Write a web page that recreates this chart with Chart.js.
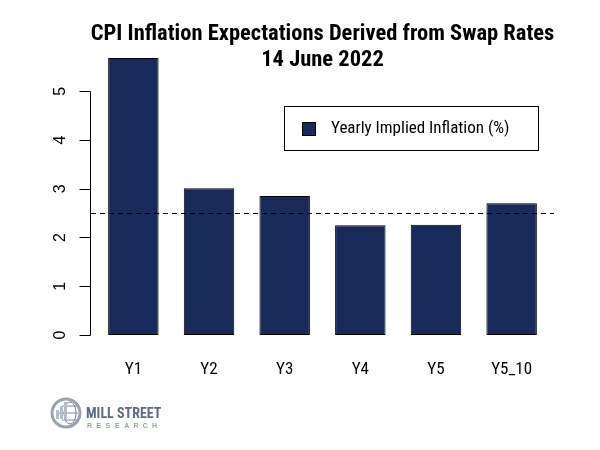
<!DOCTYPE html>
<html>
<head>
<meta charset="utf-8">
<script src="https://cdn.jsdelivr.net/npm/chart.js@4.4.0/dist/chart.umd.min.js"></script>
<style>
  html, body { margin: 0; padding: 0; background: #fff; }
</style>
</head>
<body>
<canvas id="myChart" width="600" height="450"></canvas>
<script>
// data
const categories = ["Y1", "Y2", "Y3", "Y4", "Y5", "Y5_10"];
const impliedInflation = [5.68, 3.01, 2.85, 2.25, 2.26, 2.70];
const yTickValues = [0, 1, 2, 3, 4, 5];
const targetLine = 2.5;
const titleLines = ["CPI Inflation Expectations Derived from Swap Rates", "14 June 2022"];
const seriesLabel = "Yearly Implied Inflation (%)";

const narrow = "'Roboto Condensed', Roboto, sans-serif";
const helv = "'Liberation Sans', Arial, sans-serif";
const barFill = "#172a5a";

// R-style axes, title, legend box, reference line and logo
const rStyle = {
  id: "rStyle",
  afterDatasetsDraw(chart) {
    const { ctx, chartArea: a, scales: { x, y } } = chart;
    ctx.save();

    // dashed reference line over the bars
    const yr = Math.round(y.getPixelForValue(targetLine)) + 0.5;
    ctx.strokeStyle = "#000";
    ctx.lineWidth = 1;
    ctx.setLineDash([5, 4]);
    ctx.beginPath();
    ctx.moveTo(a.left, yr);
    ctx.lineTo(a.right, yr);
    ctx.stroke();
    ctx.setLineDash([]);

    // y axis (only from first to last tick, like base R)
    const ax = Math.round(a.left) - 0.5;
    const y0 = y.getPixelForValue(yTickValues[0]);
    const y1 = y.getPixelForValue(yTickValues[yTickValues.length - 1]);
    ctx.beginPath();
    ctx.moveTo(ax, Math.round(y0) + 0.5);
    ctx.lineTo(ax, Math.round(y1) + 0.5);
    yTickValues.forEach(v => {
      const py = Math.round(y.getPixelForValue(v)) + 0.5;
      ctx.moveTo(ax, py);
      ctx.lineTo(ax - 11, py);
    });
    ctx.stroke();

    ctx.fillStyle = "#000";
    ctx.font = "16px " + helv;
    ctx.textAlign = "center";
    ctx.textBaseline = "middle";
    yTickValues.forEach(v => {
      const py = y.getPixelForValue(v);
      ctx.save();
      ctx.translate(ax - 30, py);
      ctx.rotate(-Math.PI / 2);
      ctx.fillText(String(v), 0, 0);
      ctx.restore();
    });

    // category labels under the bars
    ctx.font = "17px " + narrow;
    categories.forEach((c, i) => {
      ctx.fillText(c, x.getPixelForValue(i), a.bottom + 24);
    });

    // title
    const cx = (a.left + a.right) / 2;
    ctx.font = "bold 22.5px " + narrow;
    ctx.fillText(titleLines[0], cx, 34);
    ctx.fillText(titleLines[1], cx, 60);

    // legend box
    ctx.strokeStyle = "#000";
    ctx.strokeRect(284.5, 106.5, 254, 44);
    ctx.fillStyle = barFill;
    ctx.fillRect(302.5, 122.5, 13, 13);
    ctx.strokeRect(302.5, 122.5, 13, 13);
    ctx.fillStyle = "#000";
    ctx.textAlign = "left";
    ctx.font = "17px " + narrow;
    ctx.fillText(seriesLabel, 331, 129);

    // Mill Street Research logo
    ctx.strokeStyle = "#9aa3b3";
    ctx.lineWidth = 3;
    ctx.beginPath();
    ctx.arc(66, 413, 14, 0, Math.PI * 2);
    ctx.stroke();
    ctx.lineWidth = 1;
    ctx.strokeStyle = "#7d8799";
    ctx.beginPath();
    ctx.ellipse(70, 413, 6, 11, 0, 0, Math.PI * 2);
    ctx.moveTo(59, 413); ctx.lineTo(78, 413);
    ctx.moveTo(62, 406); ctx.lineTo(77, 406);
    ctx.moveTo(62, 420); ctx.lineTo(77, 420);
    ctx.stroke();
    ctx.fillStyle = "#b7bdc8";
    [[56, 410, 3, 9], [60, 406, 3, 13], [64, 402, 3, 17]].forEach(r => ctx.fillRect(r[0], r[1], r[2], r[3]));
    ctx.fillStyle = "#5b6b8c";
    ctx.font = "bold 14px " + narrow;
    ctx.textBaseline = "alphabetic";
    ctx.fillText("MILL STREET", 86, 418);
    ctx.fillStyle = "#9aa3b3";
    ctx.font = "bold 7px " + helv;
    "RESEARCH".split("").forEach((ch, i) => ctx.fillText(ch, 87 + i * 9.3, 428));

    ctx.restore();
  }
};

const ctx = document.getElementById("myChart").getContext("2d");

const myChart = new Chart(ctx, {
  type: "bar",
  data: {
    datasets: [
      {
        label: seriesLabel,
        data: impliedInflation.map((v, i) => ({ x: i, y: v })),
        backgroundColor: barFill,
        borderColor: "#000",
        borderWidth: 1,
        borderSkipped: false,
        categoryPercentage: 1,
        barPercentage: 0.667,
      },
    ],
  },
  options: {
    responsive: false,
    animation: false,
    events: [],
    layout: {
      padding: { left: 91, right: 46, top: 47, bottom: 104 },
    },
    plugins: {
      legend: { display: false },
      title: { display: false },
      tooltip: { enabled: false },
    },
    scales: {
      x: {
        type: "linear",
        display: false,
        offset: false,
        min: -0.56,
        max: 5.56,
        afterBuildTicks: (scale) => {
          scale.ticks = categories.map((c, i) => ({ value: i }));
        },
      },
      y: {
        display: false,
        min: -0.227,
        max: 5.907,
      },
    },
  },
  plugins: [rStyle],
});
</script>
</body>
</html>
